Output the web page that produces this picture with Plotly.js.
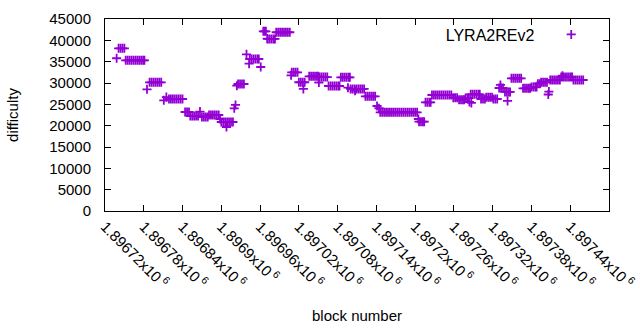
<!DOCTYPE html>
<html>
<head>
<meta charset="utf-8">
<script src="https://cdn.plot.ly/plotly-3.0.1.min.js"></script>
<style>html,body{margin:0;padding:0;background:#fff;}#chart{width:640px;height:330px;}</style>
</head>
<body>
<div id="chart"></div>
<script>
// block numbers (x) and difficulty (y)
const blockNumbers = [
  1896738,
  1896741,1896744,1896747,1896750,
  1896752,1896755,1896758,1896761,1896764,1896767,1896770,1896773,1896776,1896779,1896781,
  1896785,
  1896789,1896792,1896795,1896798,1896801,1896804,1896807,
  1896811,1896815,
  1896819,1896822,1896825,1896828,1896831,1896834,1896837,1896840,
  1896844,1896847,1896850,
  1896852,1896855,1896858,1896861,1896864,
  1896867,
  1896870,1896873,1896876,1896879,
  1896881,1896884,1896887,1896890,1896893,1896896,
  1896898,
  1896900,1896903,1896906,1896909,1896912,1896915,1896918,
  1896908,
  1896920,1896922,1896924,
  1896926,1896929,1896932,1896935,
  1896939,1896943,
  1896944,1896947,1896950,1896953,1896956,1896958,
  1896961,
  1896965,1896967,1896969,
  1896971,
  1896972,1896975,1896978,1896981,1896983,
  1896985,1896988,1896991,1896994,1896997,1897000,1897003,1897006,
  1897008,
  1897009,1897012,1897015,1897018,
  1897020,1897023,1897026,1897029,
  1897027,
  1897036,1897039,1897042,1897045,1897048,1897050,
  1897051,
  1897052,1897055,1897058,1897061,1897064,
  1897066,1897069,1897072,1897075,1897078,1897081,1897083,
  1897085,1897088,1897091,1897094,1897097,1897099,
  1897096,
  1897100,1897103,1897106,1897109,1897112,1897115,1897118,1897121,
  1897107,
  1897123,1897126,1897129,1897132,1897135,1897138,
  1897141,1897144,
  1897146,1897149,1897152,1897155,1897158,1897161,1897164,1897167,1897170,1897173,
  1897176,1897179,1897182,1897185,1897188,1897191,1897194,1897197,1897200,1897203,
  1897205,
  1897206,1897209,1897212,1897214,
  1897216,1897219,1897222,1897224,
  1897226,1897229,1897232,1897235,1897238,1897241,1897244,1897247,1897250,1897253,1897256,
  1897259,1897262,1897265,
  1897268,1897271,1897274,1897276,
  1897278,1897281,1897283,
  1897284,1897287,
  1897286,1897289,1897292,1897295,1897298,1897300,
  1897302,1897305,1897308,
  1897310,1897313,1897316,1897319,
  1897321,1897324,1897327,
  1897330,1897333,1897336,
  1897332,
  1897339,1897342,1897345,1897347,
  1897343,
  1897349,1897352,1897355,1897358,1897361,1897364,
  1897367,1897370,1897373,1897376,1897378,
  1897380,1897383,1897386,1897388,
  1897390,1897393,
  1897395,1897398,1897401,1897404,
  1897406,1897407,
  1897409,1897412,1897415,1897418,1897421,1897424,
  1897426,1897429,1897432,1897435,1897438,1897441,1897443,
  1897428,
  1897445,1897448,1897451,1897454,1897457,1897460
];
const difficulty = [
  35800,
  38130,38130,38130,38130,
  35320,35320,35320,35320,35320,35320,35320,35320,35320,35320,35320,
  28520,
  30160,30160,30160,30160,30160,30160,30160,
  25950,26700,
  26250,26250,26250,26250,26250,26250,26250,26250,
  23200,23200,23200,
  22270,22270,22270,22270,22270,
  23300,
  22030,22030,22030,22030,
  22500,22500,22500,22500,22500,22500,
  21560,
  20860,20860,20860,20860,20860,20860,20860,
  19690,
  24070,24850,29370,
  29770,29770,29770,29770,
  36730,34530,
  35630,35630,35630,35630,35630,35630,
  33750,
  42120,42120,42120,
  40390,
  40320,40320,40320,40320,40320,
  41890,41890,41890,41890,41890,41890,41890,41890,
  31810,
  32510,32510,32510,32510,
  30170,30170,30170,30170,
  28600,
  31570,31570,31570,31570,31570,31570,
  30120,
  31400,31400,31400,31400,31400,
  29300,29300,29300,29300,29300,29300,29300,
  31340,31340,31340,31340,31340,31340,
  28900,
  28600,28600,28600,28600,28600,28600,28600,28600,
  28200,
  26880,26880,26880,26880,26880,26880,
  24610,24080,
  23130,23130,23130,23130,23130,23130,23130,23130,23130,23130,
  23130,23130,23130,23130,23130,23130,23130,23130,23130,23130,
  21560,
  20930,20930,20930,20930,
  25480,25480,25480,25480,
  27190,27190,27190,27190,27190,27190,27190,27190,27190,27190,27190,
  26560,26560,26560,
  26090,26090,26090,26090,
  26490,26490,26490,
  25550,25320,
  27350,27350,27350,27350,27350,27350,
  26250,26250,26250,
  26650,26650,26650,26650,
  26250,26250,26250,
  28830,28830,28830,
  29540,
  27900,27900,27900,27900,
  25800,
  31100,31100,31100,31100,31100,31100,
  28760,28760,28760,28760,28760,
  29070,29070,29070,29070,
  29840,29840,
  30170,30170,30170,30170,
  27300,28000,
  30700,30700,30700,30700,30700,30700,
  31400,31400,31400,31400,31400,31400,31400,
  31700,
  30700,30700,30700,30700,30700,30700
];
const xTickVals = [1896720,1896780,1896840,1896900,1896960,1897020,1897080,1897140,1897200,1897260,1897320,1897380,1897440,1897500];
const xTickLabels = ["1.89672","1.89678","1.89684","1.8969","1.89696","1.89702","1.89708","1.89714","1.8972","1.89726","1.89732","1.89738","1.89744","1.8975"];
const yTickVals = [0,5000,10000,15000,20000,25000,30000,35000,40000,45000];
const seriesName = "LYRA2REv2";

const FONT = "Liberation Sans, Arial, sans-serif";
const trace = {
  type: "scatter",
  mode: "markers",
  name: seriesName,
  x: blockNumbers,
  y: difficulty,
  marker: {symbol: "cross-thin-open", size: 6.5, color: "#9400d3", line: {color: "#9400d3", width: 1.8}}
};
const layout = {
  width: 640, height: 330,
  margin: {l: 105, r: 31, t: 19, b: 119},
  paper_bgcolor: "#fff", plot_bgcolor: "#fff",
  font: {family: FONT, size: 14, color: "#000"},
  showlegend: true,
  legend: {
    x: 0.672, xanchor: "left", y: 0.995, yanchor: "top",
    bgcolor: "rgba(0,0,0,0)",
    title: {text: seriesName + "&nbsp;&nbsp;", side: "left", font: {family: FONT, size: 16, color: "#000"}},
    font: {size: 1, color: "rgba(0,0,0,0)"}
  },
  xaxis: {
    range: [1896720, 1897500],
    tickmode: "array",
    tickvals: xTickVals,
    ticktext: xTickLabels.map(s => s + "x10<sup> 6</sup>"),
    tickangle: 45,
    ticks: "inside", ticklen: 6, tickcolor: "#000",
    showline: true, linecolor: "#000", linewidth: 1, mirror: "ticks",
    showgrid: false, zeroline: false,
    tickfont: {family: FONT, size: 15, color: "#000"},
    title: {text: "block number", font: {family: FONT, size: 15, color: "#000"}, standoff: 19}
  },
  yaxis: {
    range: [0, 45000],
    tickmode: "array",
    tickvals: yTickVals,
    ticktext: yTickVals.map(String),
    ticks: "inside", ticklen: 6, tickcolor: "#000",
    showline: true, linecolor: "#000", linewidth: 1, mirror: "ticks",
    showgrid: false, zeroline: false,
    ticklabelstandoff: 10,
    tickfont: {family: FONT, size: 15, color: "#000"},
    title: {text: "difficulty", font: {family: FONT, size: 15, color: "#000"}, standoff: 27}
  }
};
Plotly.newPlot("chart", [trace], layout, {displayModeBar: false, staticPlot: true});
</script>
</body>
</html>
